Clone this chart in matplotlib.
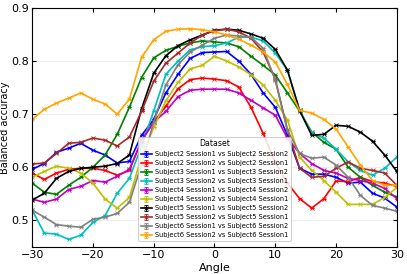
import numpy as np
import matplotlib
matplotlib.use("Agg")
import matplotlib.pyplot as plt

angles = [-30, -28, -26, -24, -22, -20, -18, -16, -14, -12, -10, -8, -6, -4, -2,
          0, 2, 4, 6, 8, 10, 12, 14, 16, 18, 20, 22, 24, 26, 28, 30]

s2_1v2 = [0.596, 0.607, 0.628, 0.636, 0.645, 0.632, 0.623, 0.608, 0.611, 0.660, 0.690, 0.740, 0.775, 0.805, 0.816,
          0.817, 0.818, 0.800, 0.775, 0.740, 0.713, 0.660, 0.598, 0.587, 0.587, 0.581, 0.570, 0.572, 0.551, 0.542, 0.525]
s2_2v1 = [0.589, 0.577, 0.589, 0.596, 0.598, 0.598, 0.594, 0.585, 0.594, 0.650, 0.685, 0.715, 0.748, 0.765, 0.768,
          0.766, 0.763, 0.751, 0.713, 0.664, 0.609, 0.570, 0.541, 0.523, 0.541, 0.574, 0.573, 0.581, 0.573, 0.570, 0.564]
s3_1v2 = [0.570, 0.553, 0.549, 0.566, 0.581, 0.600, 0.623, 0.662, 0.713, 0.769, 0.806, 0.820, 0.828, 0.834, 0.838,
          0.836, 0.834, 0.827, 0.809, 0.792, 0.774, 0.740, 0.706, 0.666, 0.647, 0.634, 0.600, 0.581, 0.566, 0.553, 0.544]
s3_2v1 = [0.519, 0.476, 0.474, 0.464, 0.472, 0.496, 0.509, 0.551, 0.579, 0.640, 0.706, 0.775, 0.800, 0.821, 0.827,
          0.829, 0.834, 0.845, 0.845, 0.838, 0.815, 0.783, 0.707, 0.664, 0.655, 0.634, 0.610, 0.594, 0.585, 0.598, 0.619]
s4_1v2 = [0.540, 0.534, 0.540, 0.558, 0.564, 0.575, 0.572, 0.583, 0.596, 0.650, 0.685, 0.705, 0.733, 0.745, 0.747,
          0.747, 0.747, 0.740, 0.726, 0.712, 0.698, 0.655, 0.626, 0.607, 0.594, 0.589, 0.579, 0.575, 0.570, 0.560, 0.541]
s4_2v1 = [0.581, 0.592, 0.602, 0.598, 0.589, 0.570, 0.540, 0.523, 0.543, 0.620, 0.675, 0.725, 0.760, 0.785, 0.792,
          0.809, 0.800, 0.789, 0.774, 0.755, 0.726, 0.689, 0.619, 0.594, 0.575, 0.553, 0.530, 0.530, 0.530, 0.543, 0.562]
s5_1v2 = [0.538, 0.551, 0.579, 0.592, 0.598, 0.600, 0.602, 0.607, 0.623, 0.710, 0.777, 0.810, 0.829, 0.840, 0.849,
          0.858, 0.860, 0.858, 0.851, 0.843, 0.822, 0.783, 0.707, 0.660, 0.662, 0.679, 0.677, 0.666, 0.649, 0.623, 0.592]
s5_2v1 = [0.606, 0.608, 0.626, 0.645, 0.647, 0.655, 0.651, 0.640, 0.657, 0.705, 0.762, 0.796, 0.815, 0.834, 0.849,
          0.857, 0.860, 0.855, 0.843, 0.817, 0.766, 0.670, 0.598, 0.581, 0.583, 0.598, 0.610, 0.598, 0.594, 0.589, 0.566]
s6_1v2 = [0.519, 0.506, 0.492, 0.489, 0.487, 0.502, 0.506, 0.513, 0.534, 0.605, 0.685, 0.755, 0.793, 0.817, 0.830,
          0.843, 0.849, 0.847, 0.845, 0.824, 0.764, 0.670, 0.626, 0.617, 0.619, 0.604, 0.581, 0.547, 0.528, 0.523, 0.517]
s6_2v1 = [0.690, 0.709, 0.721, 0.730, 0.740, 0.728, 0.719, 0.700, 0.728, 0.807, 0.840, 0.856, 0.860, 0.861, 0.859,
          0.855, 0.849, 0.841, 0.830, 0.817, 0.798, 0.756, 0.707, 0.702, 0.690, 0.672, 0.638, 0.604, 0.575, 0.566, 0.566]

labels = [
    "Subject2 Session1 vs Subject2 Session2",
    "Subject2 Session2 vs Subject2 Session1",
    "Subject3 Session1 vs Subject3 Session2",
    "Subject3 Session2 vs Subject3 Session1",
    "Subject4 Session1 vs Subject4 Session2",
    "Subject4 Session2 vs Subject4 Session1",
    "Subject5 Session1 vs Subject5 Session2",
    "Subject5 Session2 vs Subject5 Session1",
    "Subject6 Session1 vs Subject6 Session2",
    "Subject6 Session2 vs Subject6 Session1",
]
series = [s2_1v2, s2_2v1, s3_1v2, s3_2v1, s4_1v2, s4_2v1, s5_1v2, s5_2v1, s6_1v2, s6_2v1]
colors = ["b", "r", "g", "c", "m", "y", "k", "brown", "gray", "orange"]

fig = plt.figure(figsize=(4.07, 2.74), dpi=100)
ax = fig.add_axes([0.079, 0.099, 0.896, 0.872])

for vals, lab, col in zip(series, labels, colors):
    ax.errorbar(angles, vals, yerr=0.0, color=col, label=lab, marker="x",
                markersize=3, markeredgewidth=0.6, linewidth=1.2, capsize=1.5,
                elinewidth=0.8)

ax.set_xlim(-30, 30)
ax.set_ylim(0.45, 0.9)
ax.set_xticks([-30, -20, -10, 0, 10, 20, 30])
ax.set_yticks([0.5, 0.6, 0.7, 0.8, 0.9])
ax.set_xticklabels(["\u221230", "\u221220", "\u221210", "0", "10", "20", "30"])
ax.tick_params(direction="in", top=True, right=True, labelsize=8, length=3, pad=2.5)
ax.yaxis.grid(True, color="#eeeeee", linewidth=0.8)
ax.set_axisbelow(True)
ax.set_xlabel("Angle", fontsize=8, labelpad=2)
ax.set_ylabel("Balanced accuracy", fontsize=7, labelpad=1)

leg = ax.legend(title="Dataset", loc="lower center", bbox_to_anchor=(0.5, 0.01),
                fontsize=4.8, title_fontsize=5.6, handlelength=1.6,
                labelspacing=0.45, borderpad=0.4, handletextpad=0.5,
                framealpha=0.85, fancybox=True)
leg.get_frame().set_edgecolor("#bbbbbb")
leg.get_frame().set_linewidth(0.6)

fig.savefig("out.png", dpi=100)
